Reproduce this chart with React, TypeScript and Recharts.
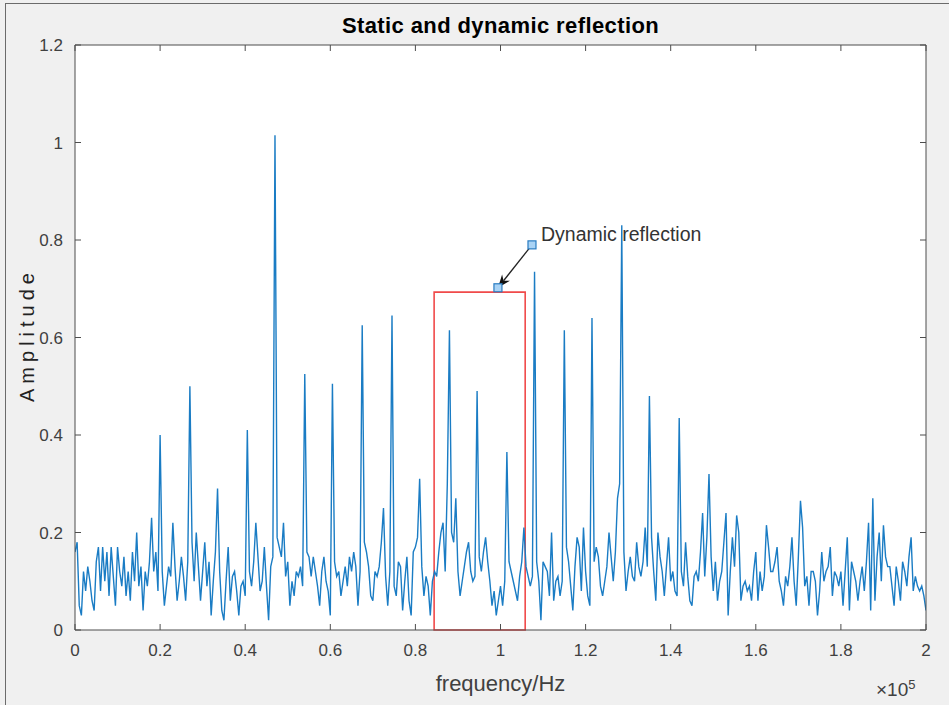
import { LineChart, Line, XAxis, YAxis, CartesianGrid, ReferenceArea, ReferenceLine, ReferenceDot } from 'recharts';

// spectrum sampled every 500 Hz, 0 .. 200 kHz
const FREQ_STEP = 500;
const amplitude = [
  // 0 kHz
  0.16, 0.18, 0.05, 0.03, 0.12, 0.08, 0.13, 0.10, 0.06, 0.04, 0.14, 0.17, 0.08, 0.17, 0.10, 0.16, 0.07, 0.17, 0.11, 0.05,
  // 10 kHz
  0.17, 0.12, 0.09, 0.15, 0.07, 0.12, 0.06, 0.16, 0.10, 0.20, 0.09, 0.13, 0.04, 0.12, 0.09, 0.14, 0.23, 0.12, 0.16, 0.08,
  // 20 kHz
  0.40, 0.12, 0.05, 0.09, 0.13, 0.11, 0.22, 0.13, 0.06, 0.10, 0.15, 0.11, 0.06, 0.14, 0.50, 0.18, 0.10, 0.20, 0.13, 0.06,
  // 30 kHz
  0.12, 0.18, 0.09, 0.14, 0.03, 0.10, 0.16, 0.29, 0.12, 0.04, 0.02, 0.10, 0.17, 0.06, 0.11, 0.12, 0.08, 0.03, 0.09, 0.10,
  // 40 kHz
  0.07, 0.41, 0.12, 0.09, 0.14, 0.22, 0.15, 0.08, 0.10, 0.17, 0.09, 0.02, 0.13, 0.15, 1.015, 0.19, 0.17, 0.15, 0.22, 0.11,
  // 50 kHz
  0.14, 0.05, 0.10, 0.07, 0.12, 0.11, 0.13, 0.09, 0.525, 0.16, 0.15, 0.11, 0.15, 0.12, 0.09, 0.05, 0.12, 0.15, 0.10, 0.08,
  // 60 kHz
  0.03, 0.505, 0.14, 0.11, 0.12, 0.07, 0.10, 0.13, 0.09, 0.15, 0.12, 0.16, 0.13, 0.05, 0.12, 0.625, 0.18, 0.16, 0.13, 0.07,
  // 70 kHz
  0.06, 0.12, 0.11, 0.13, 0.18, 0.25, 0.11, 0.05, 0.12, 0.645, 0.09, 0.07, 0.14, 0.13, 0.04, 0.10, 0.15, 0.06, 0.03, 0.16,
  // 80 kHz
  0.17, 0.19, 0.31, 0.13, 0.07, 0.11, 0.09, 0.03, 0.10, 0.12, 0.11, 0.16, 0.20, 0.22, 0.12, 0.30, 0.615, 0.20, 0.18, 0.27,
  // 90 kHz
  0.12, 0.07, 0.10, 0.13, 0.16, 0.18, 0.12, 0.10, 0.11, 0.49, 0.15, 0.12, 0.16, 0.19, 0.14, 0.10, 0.05, 0.08, 0.03, 0.06,
  // 100 kHz
  0.09, 0.05, 0.10, 0.365, 0.14, 0.12, 0.10, 0.08, 0.06, 0.11, 0.14, 0.21, 0.13, 0.11, 0.09, 0.11, 0.735, 0.14, 0.10, 0.02,
  // 110 kHz
  0.14, 0.13, 0.12, 0.07, 0.20, 0.06, 0.10, 0.11, 0.07, 0.10, 0.615, 0.17, 0.14, 0.09, 0.04, 0.13, 0.19, 0.17, 0.08, 0.21,
  // 120 kHz
  0.12, 0.07, 0.05, 0.64, 0.14, 0.17, 0.15, 0.09, 0.07, 0.10, 0.13, 0.20, 0.15, 0.10, 0.16, 0.27, 0.30, 0.83, 0.16, 0.08,
  // 130 kHz
  0.12, 0.15, 0.11, 0.10, 0.18, 0.13, 0.11, 0.14, 0.21, 0.13, 0.48, 0.19, 0.12, 0.06, 0.20, 0.15, 0.12, 0.07, 0.13, 0.19,
  // 140 kHz
  0.10, 0.12, 0.08, 0.07, 0.435, 0.12, 0.09, 0.18, 0.11, 0.06, 0.05, 0.11, 0.12, 0.10, 0.16, 0.24, 0.11, 0.19, 0.32, 0.15,
  // 150 kHz
  0.08, 0.14, 0.06, 0.10, 0.12, 0.18, 0.24, 0.03, 0.12, 0.19, 0.13, 0.235, 0.20, 0.06, 0.09, 0.10, 0.08, 0.09, 0.06, 0.12,
  // 160 kHz
  0.16, 0.06, 0.12, 0.08, 0.11, 0.215, 0.17, 0.12, 0.12, 0.14, 0.17, 0.10, 0.08, 0.05, 0.11, 0.09, 0.13, 0.19, 0.10, 0.05,
  // 170 kHz
  0.15, 0.265, 0.21, 0.09, 0.11, 0.05, 0.12, 0.12, 0.10, 0.03, 0.08, 0.16, 0.10, 0.12, 0.13, 0.17, 0.07, 0.12, 0.11, 0.09,
  // 180 kHz
  0.12, 0.05, 0.12, 0.19, 0.04, 0.14, 0.12, 0.10, 0.06, 0.10, 0.13, 0.08, 0.14, 0.22, 0.04, 0.27, 0.06, 0.15, 0.20, 0.10,
  // 190 kHz
  0.215, 0.15, 0.13, 0.13, 0.09, 0.05, 0.13, 0.10, 0.06, 0.14, 0.12, 0.09, 0.15, 0.19, 0.08, 0.11, 0.09, 0.08, 0.09, 0.07,
  // 200 kHz
  0.04,
];

const xTicks = [0, 20000, 40000, 60000, 80000, 100000, 120000, 140000, 160000, 180000, 200000];
const yTicks = [0, 0.2, 0.4, 0.6, 0.8, 1, 1.2];

// red box around the dynamic part
const boxFreq = [84400, 105800];
const boxTop = 0.693;

// annotation arrow: text anchor -> target
const arrowFrom = { x: 107400, y: 0.79 };
const arrowTo = { x: 99400, y: 0.702 };
const noteText = 'Dynamic reflection';

const data = amplitude.map((a, i) => ({ f: i * FREQ_STEP, a }));

const AXIS = '#4d4d4d';
const LABEL = '#404040';
const FONT = '"Liberation Sans", Arial, Helvetica, sans-serif';
const TICK_LEN = 6;

const fmtX = (v: number) => String(Math.round(v / 1e4) / 10);

const BottomTick = ({ x, y, payload }: any) => (
  <g>
    <line x1={x} y1={y} x2={x} y2={y - TICK_LEN} stroke={AXIS} />
    <text x={x} y={y + 26} textAnchor="middle" fill={LABEL} fontSize={17} fontFamily={FONT}>
      {fmtX(payload.value)}
    </text>
  </g>
);

const TopTick = ({ x, y }: any) => (
  <line x1={x} y1={y} x2={x} y2={y + TICK_LEN} stroke={AXIS} />
);

const LeftTick = ({ x, y, payload }: any) => (
  <g>
    <line x1={x} y1={y} x2={x + TICK_LEN} y2={y} stroke={AXIS} />
    <text x={x - 12} y={y + 6} textAnchor="end" fill={LABEL} fontSize={17} fontFamily={FONT}>
      {String(payload.value)}
    </text>
  </g>
);

const RightTick = ({ x, y }: any) => (
  <line x1={x} y1={y} x2={x - TICK_LEN} y2={y} stroke={AXIS} />
);

const Arrow = ({ x1, y1, x2, y2 }: any) => {
  const ang = Math.atan2(y2 - y1, x2 - x1);
  const len = 13;
  const half = 5;
  const bx = x2 - len * Math.cos(ang);
  const by = y2 - len * Math.sin(ang);
  const px = -Math.sin(ang) * half;
  const py = Math.cos(ang) * half;
  const nx = x2 - (len - 4) * Math.cos(ang);
  const ny = y2 - (len - 4) * Math.sin(ang);
  return (
    <g>
      <line x1={x1} y1={y1} x2={nx} y2={ny} stroke="#222" strokeWidth={1.3} />
      <polygon points={`${x2},${y2} ${bx + px},${by + py} ${nx},${ny} ${bx - px},${by - py}`} fill="#111" />
    </g>
  );
};

const Square = ({ cx, cy }: any) => (
  <rect x={cx - 4} y={cy - 4} width={8} height={8} fill="#a9d3f5" stroke="#2a7cc2" strokeWidth={1.2} />
);

const NoteSquare = (p: any) => (
  <g>
    <Square {...p} />
    <text x={p.cx + 9} y={p.cy - 4} fill="#333" fontSize={19.5} fontFamily={FONT}>
      {noteText}
    </text>
  </g>
);

export default function App() {
  return (
    <div style={{ position: 'relative', width: 949, height: 705, background: '#f0f0f0', fontFamily: FONT, overflow: 'hidden' }}>
      <style>{'body{margin:0}'}</style>
      <div style={{ position: 'absolute', left: 5, top: 3, right: 0, bottom: 0, borderLeft: '1px solid #6b6b6b', borderTop: '1px solid #6b6b6b' }} />
      <LineChart
        width={949}
        height={705}
        data={data}
        margin={{ top: 44, right: 22, bottom: 25, left: 25 }}
        style={{ position: 'absolute', left: 0, top: 0 }}
      >
        <CartesianGrid fill="#ffffff" horizontal={false} vertical={false} />
        <XAxis
          dataKey="f"
          type="number"
          domain={[0, 200000]}
          ticks={xTicks}
          interval={0}
          allowDataOverflow
          height={50}
          tickSize={0}
          tickMargin={0}
          tickLine={false}
          axisLine={{ stroke: AXIS }}
          tick={BottomTick}
        />
        <XAxis
          xAxisId="top"
          orientation="top"
          dataKey="f"
          type="number"
          domain={[0, 200000]}
          ticks={xTicks}
          interval={0}
          allowDataOverflow
          height={1}
          tickSize={0}
          tickMargin={0}
          tickLine={false}
          axisLine={{ stroke: AXIS }}
          tick={TopTick}
        />
        <YAxis
          type="number"
          domain={[0, 1.2]}
          ticks={yTicks}
          interval={0}
          allowDataOverflow
          width={50}
          tickSize={0}
          tickMargin={0}
          tickLine={false}
          axisLine={{ stroke: AXIS }}
          tick={LeftTick}
        />
        <YAxis
          yAxisId="right"
          orientation="right"
          type="number"
          domain={[0, 1.2]}
          ticks={yTicks}
          interval={0}
          allowDataOverflow
          width={1}
          tickSize={0}
          tickMargin={0}
          tickLine={false}
          axisLine={{ stroke: AXIS }}
          tick={RightTick}
        />
        <Line
          type="linear"
          dataKey="a"
          stroke="#1a7cc4"
          strokeWidth={1.4}
          dot={false}
          activeDot={false}
          isAnimationActive={false}
        />
        <ReferenceArea
          x1={boxFreq[0]}
          x2={boxFreq[1]}
          y1={0}
          y2={boxTop}
          fill="none"
          stroke="#f04a4a"
          strokeWidth={1.6}
          ifOverflow="visible"
        />
        <ReferenceLine segment={[arrowFrom, arrowTo]} shape={Arrow} ifOverflow="visible" />
        <ReferenceDot x={arrowTo.x} y={arrowTo.y} shape={Square} ifOverflow="visible" />
        <ReferenceDot x={arrowFrom.x} y={arrowFrom.y} shape={NoteSquare} ifOverflow="visible" />
      </LineChart>

      <div style={{ position: 'absolute', left: 250, width: 501, top: 13, textAlign: 'center', fontSize: 22, letterSpacing: 0.4, fontWeight: 'bold', color: '#000' }}>
        Static and dynamic reflection
      </div>
      <div style={{ position: 'absolute', left: 400, width: 201, top: 671, textAlign: 'center', fontSize: 22, color: LABEL }}>
        frequency/Hz
      </div>
      <div
        style={{
          position: 'absolute', left: -73, top: 322, width: 200, height: 26, lineHeight: '26px',
          textAlign: 'center', fontSize: 20, letterSpacing: 5, color: '#222', transform: 'rotate(-90deg)',
        }}
      >
        Amplitude
      </div>
      <div style={{ position: 'absolute', left: 876, top: 677, fontSize: 19, color: LABEL }}>
        ×10<sup style={{ fontSize: 13 }}>5</sup>
      </div>
    </div>
  );
}
